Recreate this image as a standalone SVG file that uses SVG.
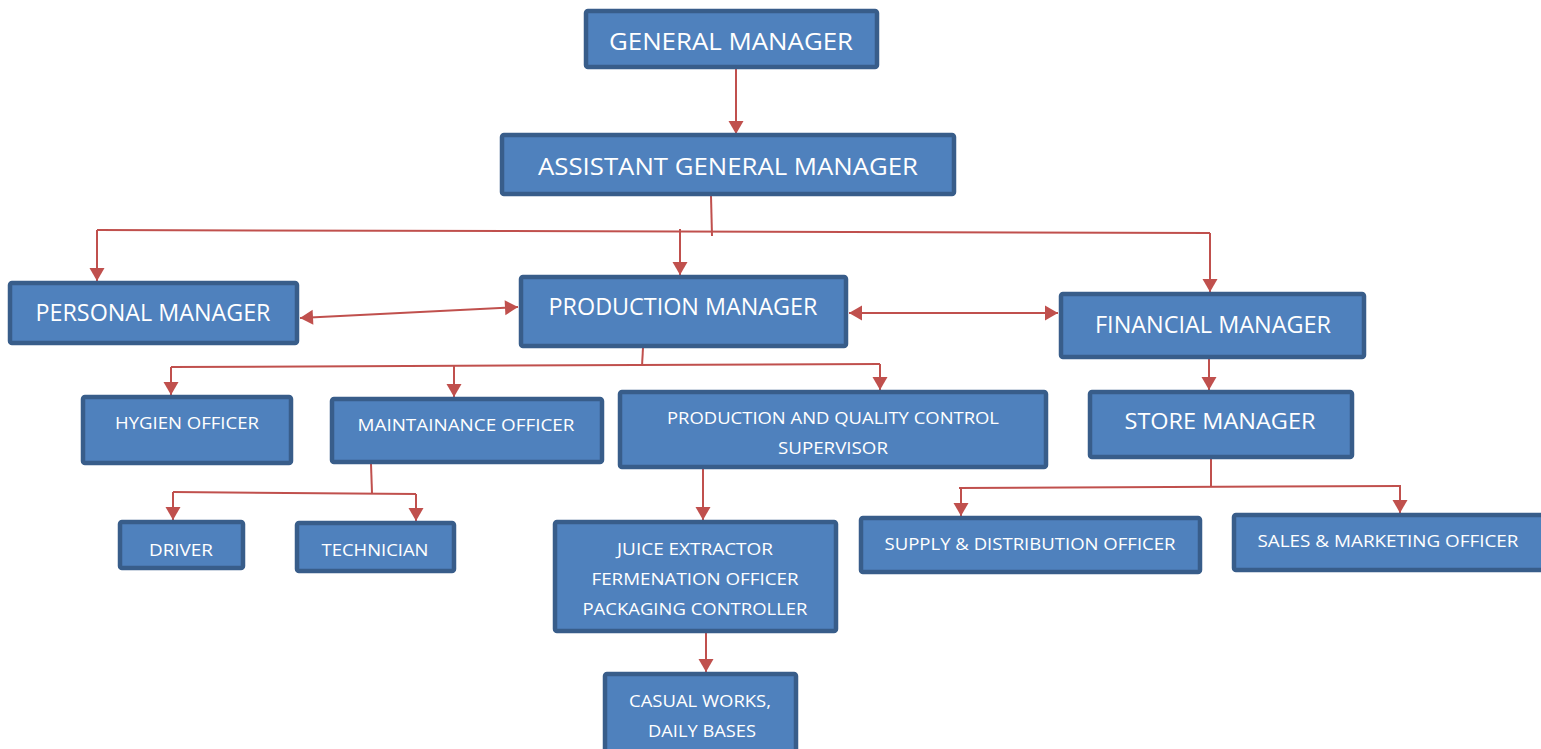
<svg xmlns="http://www.w3.org/2000/svg" width="1541" height="749" viewBox="0 0 1541 749">
<style>
.box{fill:#4F81BD;stroke:#385D8A;stroke-width:4.5}
.t{fill:#FFFFFF;font-family:"Open Sans","Liberation Sans",sans-serif;text-anchor:middle}
.big{font-size:23px}
.mid{font-size:21px}
.sm{font-size:17px}
.c{fill:none;stroke:#C0504D;stroke-width:2}
</style>
<defs>
<marker id="ah" markerUnits="userSpaceOnUse" markerWidth="16" markerHeight="16" viewBox="0 0 16 16" refX="14" refY="8" orient="auto-start-reverse">
<path d="M1,0.5 L14,8 L1,15.5 Z" fill="#C0504D"/>
</marker>
</defs>
<rect width="1541" height="749" fill="#FFFFFF"/>
<g id="connectors">
<path class="c" d="M736,69 L736,134" marker-end="url(#ah)"/>
<path class="c" d="M711,196 L712,236"/>
<path class="c" d="M97,230 L1210,233"/>
<path class="c" d="M97,230 L97,281" marker-end="url(#ah)"/>
<path class="c" d="M680,229 L680,275" marker-end="url(#ah)"/>
<path class="c" d="M1210,233 L1210,292" marker-end="url(#ah)"/>
<path class="c" d="M300,318 L518,307" marker-start="url(#ah)" marker-end="url(#ah)"/>
<path class="c" d="M849,313 L1058,313" marker-start="url(#ah)" marker-end="url(#ah)"/>
<path class="c" d="M643,348 L642,366"/>
<path class="c" d="M171,367 L880,364"/>
<path class="c" d="M171,367 L171,395" marker-end="url(#ah)"/>
<path class="c" d="M454,366 L454,397" marker-end="url(#ah)"/>
<path class="c" d="M880,364 L880,390" marker-end="url(#ah)"/>
<path class="c" d="M371,464 L372,493"/>
<path class="c" d="M173,492 L416,494"/>
<path class="c" d="M173,492 L173,520" marker-end="url(#ah)"/>
<path class="c" d="M416,494 L416,521" marker-end="url(#ah)"/>
<path class="c" d="M703,469 L703,520" marker-end="url(#ah)"/>
<path class="c" d="M706,633 L706,672" marker-end="url(#ah)"/>
<path class="c" d="M1209,359 L1209,390" marker-end="url(#ah)"/>
<path class="c" d="M1211,459 L1211,486"/>
<path class="c" d="M959,488 L1401,486"/>
<path class="c" d="M961,488 L961,516" marker-end="url(#ah)"/>
<path class="c" d="M1400,486 L1400,513" marker-end="url(#ah)"/>
</g>
<g id="general-manager">
<rect class="box" x="586" y="11" width="291" height="56" rx="2"/>
<text class="t big" x="731" y="50" textLength="244" lengthAdjust="spacingAndGlyphs">GENERAL MANAGER</text>
</g>
<g id="assistant-general-manager">
<rect class="box" x="502" y="135" width="452" height="59" rx="2"/>
<text class="t big" x="728" y="175" textLength="380" lengthAdjust="spacingAndGlyphs">ASSISTANT GENERAL MANAGER</text>
</g>
<g id="personal-manager">
<rect class="box" x="10" y="283" width="287" height="60" rx="2"/>
<text class="t big" x="153" y="321" textLength="235" lengthAdjust="spacingAndGlyphs">PERSONAL MANAGER</text>
</g>
<g id="production-manager">
<rect class="box" x="521" y="277" width="325" height="69" rx="2"/>
<text class="t big" x="683" y="315" textLength="269" lengthAdjust="spacingAndGlyphs">PRODUCTION MANAGER</text>
</g>
<g id="financial-manager">
<rect class="box" x="1061" y="294" width="303" height="63" rx="2"/>
<text class="t big" x="1213" y="333" textLength="236" lengthAdjust="spacingAndGlyphs">FINANCIAL MANAGER</text>
</g>
<g id="hygien-officer">
<rect class="box" x="83" y="397" width="208" height="66" rx="2"/>
<text class="t sm" x="187" y="429" textLength="144" lengthAdjust="spacingAndGlyphs">HYGIEN OFFICER</text>
</g>
<g id="maintainance-officer">
<rect class="box" x="332" y="399" width="270" height="63" rx="2"/>
<text class="t sm" x="466" y="431" textLength="217" lengthAdjust="spacingAndGlyphs">MAINTAINANCE OFFICER</text>
</g>
<g id="production-quality-supervisor">
<rect class="box" x="620" y="392" width="426" height="75" rx="2"/>
<text class="t sm" x="833" y="424" textLength="332" lengthAdjust="spacingAndGlyphs">PRODUCTION AND QUALITY CONTROL</text>
<text class="t sm" x="833" y="454" textLength="110" lengthAdjust="spacingAndGlyphs">SUPERVISOR</text>
</g>
<g id="store-manager">
<rect class="box" x="1090" y="392" width="262" height="65" rx="2"/>
<text class="t mid" x="1220" y="429" textLength="191" lengthAdjust="spacingAndGlyphs">STORE MANAGER</text>
</g>
<g id="driver">
<rect class="box" x="120" y="522" width="123" height="46" rx="2"/>
<text class="t sm" x="181" y="556" textLength="64" lengthAdjust="spacingAndGlyphs">DRIVER</text>
</g>
<g id="technician">
<rect class="box" x="297" y="523" width="157" height="48" rx="2"/>
<text class="t sm" x="375" y="556" textLength="107" lengthAdjust="spacingAndGlyphs">TECHNICIAN</text>
</g>
<g id="juice-extractor">
<rect class="box" x="555" y="522" width="281" height="109" rx="2"/>
<text class="t sm" x="695" y="555" textLength="156" lengthAdjust="spacingAndGlyphs">JUICE EXTRACTOR</text>
<text class="t sm" x="695" y="585" textLength="207" lengthAdjust="spacingAndGlyphs">FERMENATION OFFICER</text>
<text class="t sm" x="695" y="615" textLength="225" lengthAdjust="spacingAndGlyphs">PACKAGING CONTROLLER</text>
</g>
<g id="supply-distribution-officer">
<rect class="box" x="861" y="518" width="339" height="54" rx="2"/>
<text class="t sm" x="1030" y="550" textLength="291" lengthAdjust="spacingAndGlyphs">SUPPLY &amp; DISTRIBUTION OFFICER</text>
</g>
<g id="sales-marketing-officer">
<rect class="box" x="1234" y="515" width="310" height="55" rx="2"/>
<text class="t sm" x="1388" y="547" textLength="261" lengthAdjust="spacingAndGlyphs">SALES &amp; MARKETING OFFICER</text>
</g>
<g id="casual-works">
<rect class="box" x="605" y="674" width="191" height="80" rx="2"/>
<text class="t sm" x="700" y="707" textLength="142" lengthAdjust="spacingAndGlyphs">CASUAL WORKS,</text>
<text class="t sm" x="702" y="737" textLength="108" lengthAdjust="spacingAndGlyphs">DAILY BASES</text>
</g>
</svg>
